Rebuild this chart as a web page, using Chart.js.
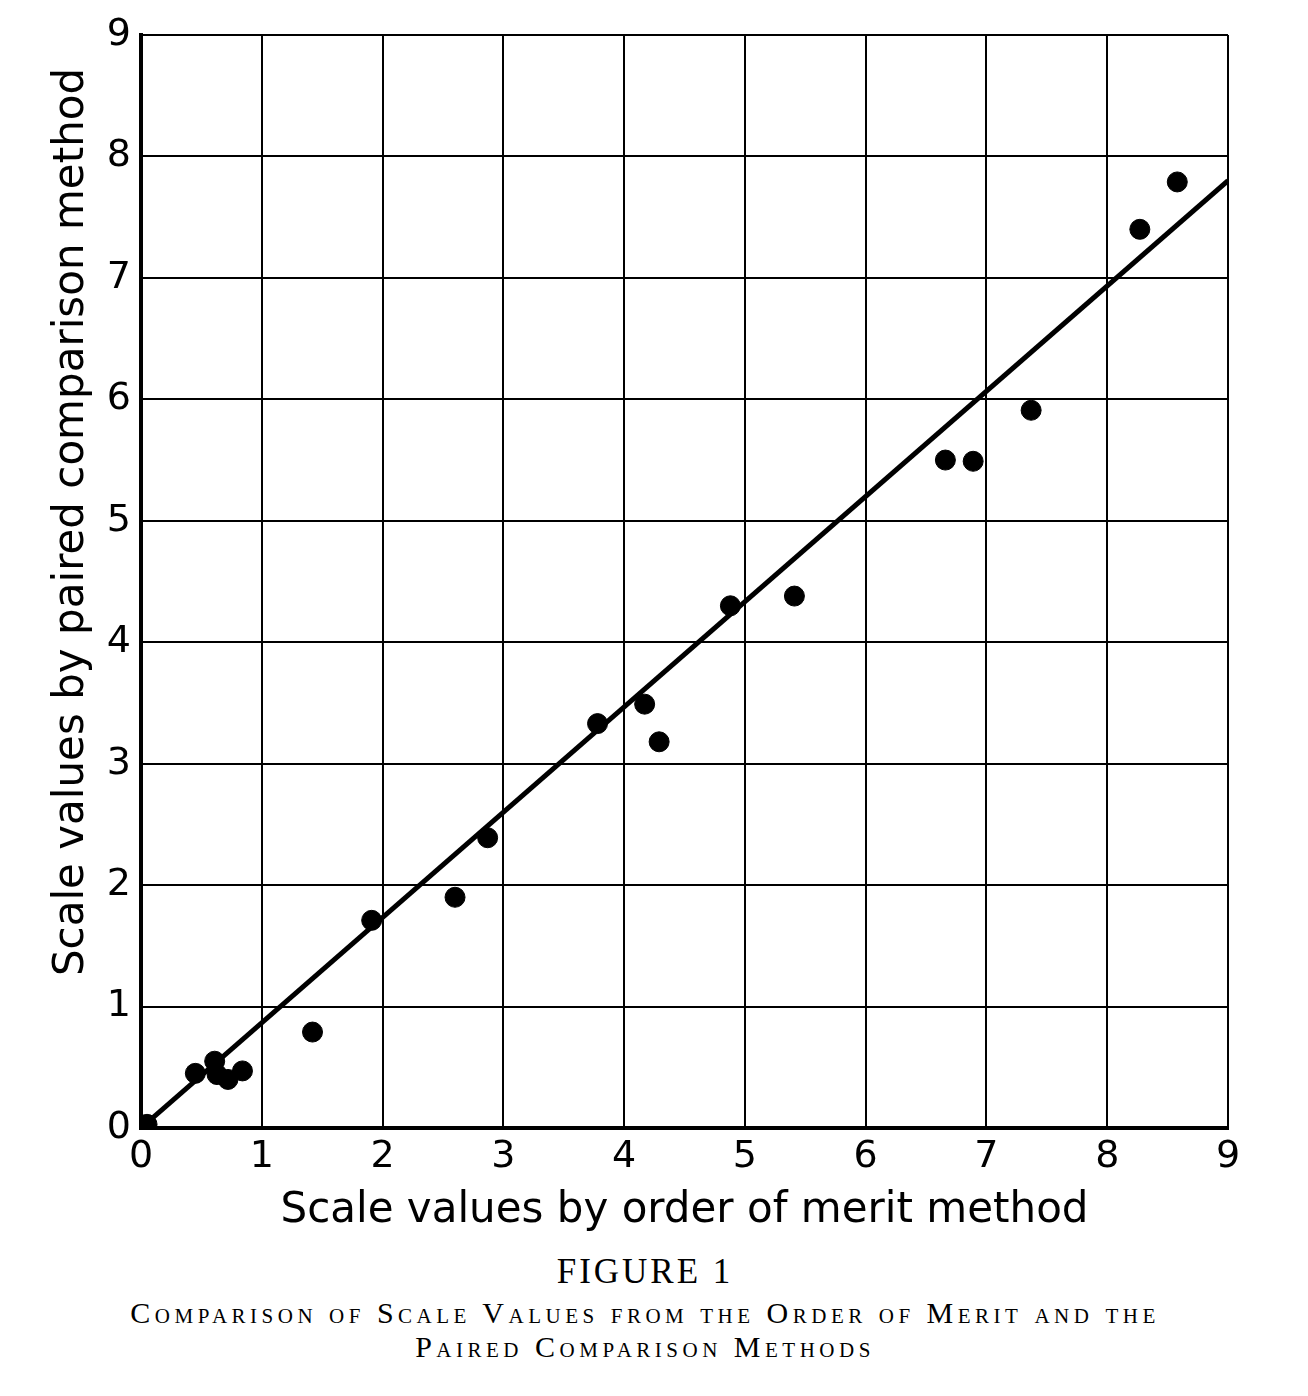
<!DOCTYPE html>
<html>
<head>
<meta charset="utf-8">
<script src="https://cdn.jsdelivr.net/npm/chart.js@4.4.0/dist/chart.umd.min.js"></script>
<style>
  body { margin: 0; background: #fff; }
  #wrap { position: relative; width: 1308px; height: 1240px; }
  .cap { font-family: "Liberation Serif", serif; color: #000; text-align: center; width: 1290px; }
  #fig { font-size: 35px; letter-spacing: 3px; margin-top: 12px; }
  #sub { font-size: 30px; font-variant: small-caps; letter-spacing: 4.5px; line-height: 34px; margin-top: 4px; }
</style>
</head>
<body>
<div id="wrap"><canvas id="myChart" width="1308" height="1240"></canvas></div>
<div class="cap" id="fig">FIGURE 1</div>
<div class="cap" id="sub">Comparison of Scale Values from the Order of Merit and the<br>Paired Comparison Methods</div>
<script>
// valores
var orden_merito = [0.05, 0.45, 0.61, 0.63, 0.72, 0.84, 1.42, 1.91, 2.60, 2.87, 3.78, 4.17, 4.29, 4.88, 5.41, 6.66, 6.89, 7.37, 8.27, 8.58]
var comparacion_pares = [0.03, 0.45, 0.55, 0.44, 0.40, 0.47, 0.79, 1.71, 1.90, 2.39, 3.33, 3.49, 3.18, 4.30, 4.38, 5.50, 5.49, 5.91, 7.40, 7.79]
var recta_x = [0, 9]
var recta_y = [0, 7.8]
var marcas = [0, 1, 2, 3, 4, 5, 6, 7, 8, 9]

var puntos = orden_merito.map(function (v, i) { return { x: v, y: comparacion_pares[i] } })
var recta = recta_x.map(function (v, i) { return { x: v, y: recta_y[i] } })

var fuenteMano = "'DejaVu Sans', sans-serif"

// titulo del eje y, algo mas arriba que el centro del eje (como en el original)
var tituloY = {
    id: "tituloY",
    afterDraw: function (chart) {
        var c = chart.ctx
        c.save()
        c.translate(72, 522)
        c.rotate(-Math.PI / 2)
        c.fillStyle = "#000"
        c.font = "42px " + fuenteMano
        c.textAlign = "center"
        c.textBaseline = "middle"
        c.fillText("Scale values by paired comparison method", 0, 0)
        c.restore()
    }
}

var ctx = document.getElementById("myChart").getContext("2d");
new Chart(ctx, {
    type: "scatter",
    data: {
        datasets: [
            {
                type: "line",
                data: recta,
                borderColor: "#000",
                borderWidth: 5,
                pointRadius: 0,
                fill: false,
                order: 2
            },
            {
                data: puntos,
                backgroundColor: "#000",
                borderColor: "#000",
                pointRadius: 10,
                order: 1
            }
        ]
    },
    options: {
        responsive: false,
        animation: false,
        layout: { padding: { top: 35, right: 80, left: 0, bottom: 0 } },
        plugins: { legend: { display: false }, tooltip: { enabled: false } },
        scales: {
            x: {
                type: "linear",
                min: 0,
                max: 9,
                afterBuildTicks: function (s) { s.ticks = marcas.map(function (v) { return { value: v } }) },
                afterFit: function (s) { s.height = 112 },
                grid: { color: "#000", lineWidth: 2, drawTicks: false },
                border: { color: "#000", width: 4 },
                ticks: { color: "#000", font: { family: fuenteMano, size: 38 }, padding: 6 },
                title: {
                    display: true,
                    text: "Scale values by order of merit method",
                    color: "#000",
                    font: { family: fuenteMano, size: 42 },
                    padding: { top: 0, bottom: 4 }
                }
            },
            y: {
                type: "linear",
                min: 0,
                max: 9,
                afterBuildTicks: function (s) { s.ticks = marcas.map(function (v) { return { value: v } }) },
                afterFit: function (s) { s.width = 141 },
                grid: { color: "#000", lineWidth: 2, drawTicks: false },
                border: { color: "#000", width: 4 },
                ticks: { color: "#000", font: { family: fuenteMano, size: 38 }, padding: 10 }
            }
        }
    },
    plugins: [tituloY]
});
</script>
</body>
</html>
